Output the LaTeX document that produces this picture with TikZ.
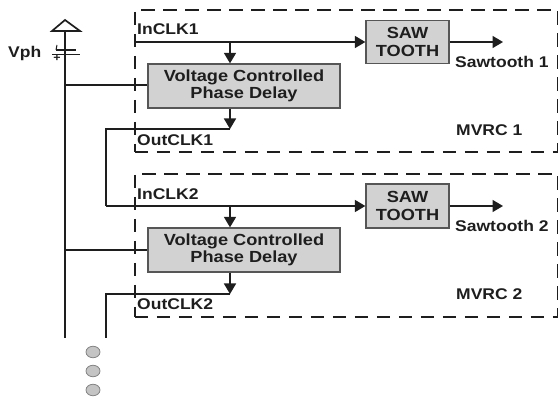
\documentclass[tikz,border=0pt]{standalone}
\usepackage{fontspec}
\setmainfont[FakeStretch=1.13]{Liberation Sans}
\usetikzlibrary{arrows.meta,positioning,shapes.geometric}
\definecolor{ink}{HTML}{1E1E1E}
\definecolor{boxgrey}{HTML}{D2D2D2}
\definecolor{dotgrey}{HTML}{C4C4C4}
\tikzset{
  wire/.style={draw=ink,line width=1.7pt},
  arrowwire/.style={wire,-{Triangle[length=10.5pt,width=12pt]}},
  block/.style={draw=ink!75,line width=1.3pt,fill=boxgrey,inner sep=0pt,align=center,
    text=ink,font=\fontsize{16.1}{17.6}\selectfont\bfseries},
  label/.style={text=ink,inner sep=0pt,anchor=west,font=\fontsize{15.5}{16}\selectfont\bfseries},
  frame/.style={draw=ink,line width=1.6pt,dash pattern=on 13.5pt off 8.5pt},
  dot/.style={ellipse,draw=ink!55,line width=0.8pt,fill=dotgrey,minimum width=14pt,minimum height=11.5pt,inner sep=0pt},
}
\begin{document}
\begin{tikzpicture}[x=1pt,y=-1pt]
\useasboundingbox (0,0) rectangle (558,401);
% frames
\node[frame,minimum width=423pt,minimum height=142pt,anchor=north west,inner sep=0pt] (frame1) at (134,9) {};
\node[frame,minimum width=423pt,minimum height=143pt,anchor=north west,inner sep=0pt] (frame2) at (134,173) {};
% blocks
\node[block,minimum width=192pt,minimum height=44pt] (vcpd1) at (244,86) {Voltage Controlled\\Phase Delay};
\node[block,minimum width=192pt,minimum height=44pt] (vcpd2) at (244,250) {Voltage Controlled\\Phase Delay};
\node[block,minimum width=83pt,minimum height=43pt] (saw1) at (407.5,42) {SAW\\TOOTH};
\node[block,minimum width=83pt,minimum height=44pt] (saw2) at (407.5,206) {SAW\\TOOTH};
% supply symbol
\coordinate (apex) at (65,20);
\coordinate (baseL) at (52,31);
\coordinate (baseR) at (80,31);
\coordinate (railTop) at (65,31);
\coordinate (railEnd) at (65,338);
\coordinate (plateA1) at (56,50);
\coordinate (plateA2) at (76,50);
\coordinate (plateB1) at (52,54.5);
\coordinate (plateB2) at (80,54.5);
\coordinate (tick) at (57,45);
\coordinate (tap1) at (65,85);
\coordinate (tap2) at (65,250);
\draw[wire,line join=miter] (baseL) -- (apex) -- (baseR) -- cycle;
\draw[wire] (railTop) -- (railEnd);
\draw[wire,line width=2pt] (plateA1) -- (plateA2);
\draw[wire] (plateB1) -- (plateB2);
\draw[wire,line width=1pt] (tick) -- (plateA1);
\node[inner sep=0pt,text=ink,font=\fontsize{11}{11}\selectfont\bfseries] (plus) at (57,58) {+};
\draw[wire] (tap1) -- (vcpd1.west |- tap1);
\draw[wire] (tap2) -- (vcpd2.west);
% clock paths
\coordinate (in1) at (134,42);
\coordinate (drop1) at (230,42);
\coordinate (out1) at (230,129);
\coordinate (link1) at (106,129);
\coordinate (link2) at (106,206);
\coordinate (drop2) at (230,206);
\coordinate (out2) at (230,294);
\coordinate (corner2) at (106,294);
\coordinate (tail) at (106,338);
\coordinate (sawout1) at (503,42);
\coordinate (sawout2) at (503,206);
\draw[arrowwire] (in1) -- (saw1.west);
\draw[arrowwire] (drop1) -- (drop1 |- vcpd1.north);
\draw[arrowwire] (drop1 |- vcpd1.south) -- (out1);
\draw[wire] (out1) -- (link1) -- (link2);
\draw[arrowwire] (link2) -- (saw2.west);
\draw[arrowwire] (drop2) -- (drop2 |- vcpd2.north);
\draw[arrowwire] (drop2 |- vcpd2.south) -- (out2);
\draw[wire] (out2) -- (corner2) -- (tail);
\draw[arrowwire] (saw1.east) -- (sawout1);
\draw[arrowwire] (saw2.east) -- (sawout2);
% labels
\node[label] (vph) at (8,53) {Vph};
\node[label] (in1t) at (137,29) {InCLK1};
\node[label] (out1t) at (137,140) {OutCLK1};
\node[label] (in2t) at (137,194) {InCLK2};
\node[label] (out2t) at (137,304) {OutCLK2};
\node[label] (st1) at (455,62) {Sawtooth 1};
\node[label] (st2) at (455,226) {Sawtooth 2};
\node[label] (m1) at (456,130) {MVRC 1};
\node[label] (m2) at (456,294) {MVRC 2};
% dots
\node[dot] (d1) at (93,352) {};
\node[dot] (d2) at (93,371) {};
\node[dot] (d3) at (93,390) {};
\end{tikzpicture}
\end{document}
